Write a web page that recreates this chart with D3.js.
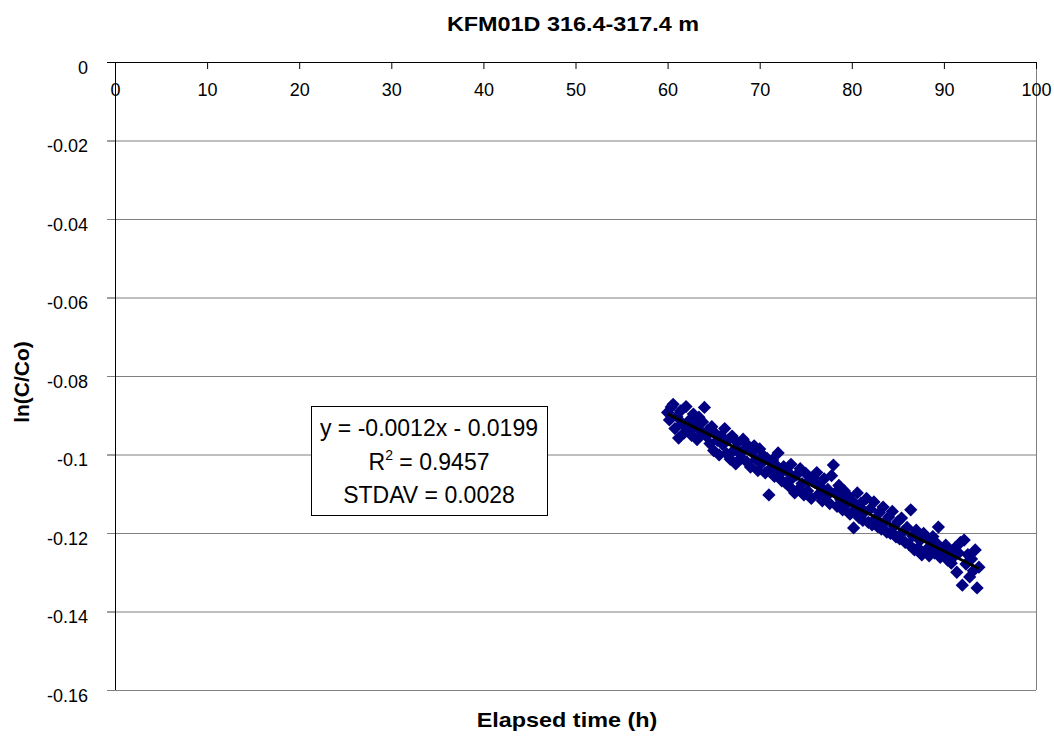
<!DOCTYPE html>
<html>
<head>
<meta charset="utf-8">
<script src="https://cdn.jsdelivr.net/npm/d3@7"></script>
<style>
  body { margin: 0; background: #fff; }
  svg { font-family: "Liberation Sans", Arial, sans-serif; }
</style>
</head>
<body>
<div id="chart"></div>
<script>
(function() {
    // Elapsed time (h) for each sample
    const elapsedHours = [
        60.0, 60.2, 60.4, 60.6, 60.8, 61.0, 61.2, 61.4, 61.6, 61.8,
        62.0, 62.2, 62.4, 62.6, 62.8, 63.0, 63.2, 63.4, 63.6, 63.8,
        64.0, 64.2, 64.4, 64.6, 64.8, 65.0, 65.2, 65.4, 65.6, 65.8,
        66.0, 66.2, 66.4, 66.6, 66.8, 67.0, 67.2, 67.4, 67.6, 67.8,
        68.0, 68.2, 68.4, 68.6, 68.8, 69.0, 69.2, 69.4, 69.6, 69.8,
        70.0, 70.2, 70.4, 70.6, 70.8, 71.0, 71.2, 71.4, 71.6, 71.8,
        72.0, 72.2, 72.4, 72.6, 72.8, 73.0, 73.2, 73.4, 73.6, 73.8,
        74.0, 74.2, 74.4, 74.6, 74.8, 75.0, 75.2, 75.4, 75.6, 75.8,
        76.0, 76.2, 76.4, 76.6, 76.8, 77.0, 77.2, 77.4, 77.6, 77.8,
        78.0, 78.2, 78.4, 78.6, 78.8, 79.0, 79.2, 79.4, 79.6, 79.8,
        80.0, 80.2, 80.4, 80.6, 80.8, 81.0, 81.2, 81.4, 81.6, 81.8,
        82.0, 82.2, 82.4, 82.6, 82.8, 83.0, 83.2, 83.4, 83.6, 83.8,
        84.0, 84.2, 84.4, 84.6, 84.8, 85.0, 85.2, 85.4, 85.6, 85.8,
        86.0, 86.2, 86.4, 86.6, 86.8, 87.0, 87.2, 87.4, 87.6, 87.8,
        88.0, 88.2, 88.4, 88.6, 88.8, 89.0, 89.2, 89.4, 89.6, 89.8,
        90.0, 90.2, 90.4, 90.6, 90.8, 91.0, 91.2, 91.4, 91.6, 91.8,
        92.0, 92.2, 92.4, 92.6, 92.8, 93.0, 93.2, 93.4, 93.6, 93.8
    ];

    // ln(C/Co) for each sample
    const lnRatio = [
        -0.0893, -0.0912, -0.0879, -0.0872, -0.0934, -0.0903, -0.0958, -0.0889, -0.0921, -0.0945,
        -0.0878, -0.0936, -0.0912, -0.0951, -0.0897, -0.0928, -0.0962, -0.0905, -0.0941, -0.0917,
        -0.0880, -0.0953, -0.0938, -0.0972, -0.0929, -0.0990, -0.0947, -0.0964, -0.1001, -0.0952,
        -0.0975, -0.0934, -0.0998, -0.0962, -0.1012, -0.0953, -0.0989, -0.1024, -0.0970, -0.0997,
        -0.1008, -0.0961, -0.0985, -0.1019, -0.0979, -0.1032, -0.0995, -0.0978, -0.1013, -0.1041,
        -0.0986, -0.1022, -0.1003, -0.1047, -0.1010, -0.1103, -0.1035, -0.1014, -0.1056, -0.1028,
        -0.0996, -0.1049, -0.1067, -0.1031, -0.1072, -0.1043, -0.1081, -0.1025, -0.1059, -0.1098,
        -0.1052, -0.1089, -0.1036, -0.1074, -0.1103, -0.1048, -0.1093, -0.1066, -0.1112, -0.1059,
        -0.1071, -0.1046, -0.1101, -0.1083, -0.1118, -0.1062, -0.1107, -0.1089, -0.1125, -0.1054,
        -0.1027, -0.1098, -0.1132, -0.1079, -0.1115, -0.1141, -0.1093, -0.1128, -0.1106, -0.1152,
        -0.1117, -0.1187, -0.1139, -0.1098, -0.1161, -0.1124, -0.1168, -0.1146, -0.1112, -0.1173,
        -0.1139, -0.1179, -0.1121, -0.1163, -0.1184, -0.1148, -0.1190, -0.1134, -0.1172, -0.1198,
        -0.1159, -0.1201, -0.1145, -0.1183, -0.1210, -0.1171, -0.1215, -0.1162, -0.1196, -0.1224,
        -0.1186, -0.1229, -0.1141, -0.1207, -0.1243, -0.1193, -0.1238, -0.1219, -0.1256, -0.1201,
        -0.1245, -0.1214, -0.1258, -0.1232, -0.1209, -0.1251, -0.1226, -0.1185, -0.1262, -0.1240,
        -0.1257, -0.1231, -0.1269, -0.1248, -0.1277, -0.1262, -0.1238, -0.1300, -0.1251, -0.1224,
        -0.1333, -0.1218, -0.1279, -0.1255, -0.1312, -0.1266, -0.1296, -0.1243, -0.1340, -0.1287
    ];

    const xTicks = [0, 10, 20, 30, 40, 50, 60, 70, 80, 90, 100];
    const yTicks = [0, -0.02, -0.04, -0.06, -0.08, -0.1, -0.12, -0.14, -0.16];
    const fitLabel = ["y = -0.0012x - 0.0199", "R", " = 0.9457", "STDAV = 0.0028"];

    const data = elapsedHours.map((h, i) => ({ x: h, y: lnRatio[i] }));

    const margin = { top: 62, right: 18, bottom: 46, left: 115 };
    const width = 1054 - margin.left - margin.right;
    const height = 736 - margin.top - margin.bottom;

    const x = d3.scaleLinear().domain([0, 100]).range([0, width]);
    const y = d3.scaleLinear().domain([0, -0.16]).range([0, height]);

    const root = d3.select("#chart")
        .append("svg")
        .attr("width", 1054)
        .attr("height", 736);

    const svg = root.append("g")
        .attr("transform", "translate(" + margin.left + "," + margin.top + ")");

    // horizontal gridlines, they also serve as the y tick marks
    svg.append("g")
        .selectAll("line")
        .data(yTicks.filter(d => d !== 0))
        .join("line")
        .attr("x1", -8)
        .attr("x2", width)
        .attr("y1", d => y(d) + 0.5)
        .attr("y2", d => y(d) + 0.5)
        .attr("stroke", "#808080")
        .attr("stroke-width", 1);

    // right edge of the plot area
    svg.append("line")
        .attr("x1", width + 0.5).attr("x2", width + 0.5)
        .attr("y1", 0).attr("y2", height)
        .attr("stroke", "#808080");

    // y axis (plain hyphen for negatives, like the spreadsheet)
    const yAxis = svg.append("g")
        .call(d3.axisLeft(y).tickValues(yTicks).tickSize(8).tickPadding(19)
            .tickFormat(d => String(+d.toFixed(2))));
    yAxis.select(".domain").attr("stroke", "#000").attr("d", "M0.5,0V" + height);
    yAxis.selectAll(".tick line").attr("stroke", d => d === 0 ? "#000" : "#808080");
    yAxis.selectAll("text")
        .attr("dy", "0.62em")
        .attr("font-size", 18)
        .attr("font-family", "Liberation Sans, Arial, sans-serif")
        .attr("fill", "#000");

    // x axis along the top edge, ticks pointing into the plot
    const xAxis = svg.append("g")
        .call(d3.axisBottom(x).tickValues(xTicks).tickSize(7).tickPadding(14));
    xAxis.select(".domain").attr("stroke", "#000").attr("d", "M0,0.5H" + width);
    xAxis.selectAll(".tick line").attr("stroke", "#000");
    xAxis.selectAll("text")
        .attr("font-size", 18)
        .attr("font-family", "Liberation Sans, Arial, sans-serif")
        .attr("fill", "#000");

    // measured points
    svg.append("g")
        .selectAll("path")
        .data(data)
        .join("path")
        .attr("d", d3.symbol(d3.symbolSquare, 88))
        .attr("transform", d => "translate(" + x(d.x) + "," + y(d.y) + ") rotate(45)")
        .attr("fill", "#000080");

    // least squares trend line through the points
    const mx = d3.mean(data, d => d.x);
    const my = d3.mean(data, d => d.y);
    const slope = d3.sum(data, d => (d.x - mx) * (d.y - my)) / d3.sum(data, d => (d.x - mx) ** 2);
    const intercept = my - slope * mx;
    const xExt = d3.extent(data, d => d.x);

    svg.append("path")
        .datum(xExt.map(v => ({ x: v, y: intercept + slope * v })))
        .attr("fill", "none")
        .attr("stroke", "#000")
        .attr("stroke-width", 3)
        .attr("d", d3.line().x(d => x(d.x)).y(d => y(d.y)));

    // fit statistics box
    const box = root.append("g").attr("transform", "translate(311,406)");
    box.append("rect")
        .attr("x", 0.5).attr("y", 0.5)
        .attr("width", 236).attr("height", 109)
        .attr("fill", "#fff")
        .attr("stroke", "#000");

    const boxText = box.append("text")
        .attr("text-anchor", "middle")
        .attr("font-size", 23)
        .attr("fill", "#000");
    boxText.append("tspan").attr("x", 118).attr("y", 30).text(fitLabel[0]);
    const r2 = boxText.append("tspan").attr("x", 118).attr("y", 64);
    r2.append("tspan").text(fitLabel[1]);
    r2.append("tspan").attr("font-size", 14).attr("dy", -10).text("2");
    r2.append("tspan").attr("dy", 10).text(fitLabel[2]);
    boxText.append("tspan").attr("x", 118).attr("y", 97).text(fitLabel[3]);

    // titles, drawn slightly wide
    root.append("text")
        .attr("transform", "translate(573,31) scale(1.17,1)")
        .attr("text-anchor", "middle")
        .attr("font-weight", "bold")
        .attr("font-size", 20)
        .text("KFM01D 316.4-317.4 m");

    root.append("text")
        .attr("transform", "translate(567,727) scale(1.17,1)")
        .attr("text-anchor", "middle")
        .attr("font-weight", "bold")
        .attr("font-size", 20)
        .text("Elapsed time (h)");

    root.append("text")
        .attr("transform", "translate(29,382) rotate(-90)")
        .attr("text-anchor", "middle")
        .attr("font-weight", "bold")
        .attr("font-size", 21)
        .text("ln(C/Co)");
})();
</script>
</body>
</html>
